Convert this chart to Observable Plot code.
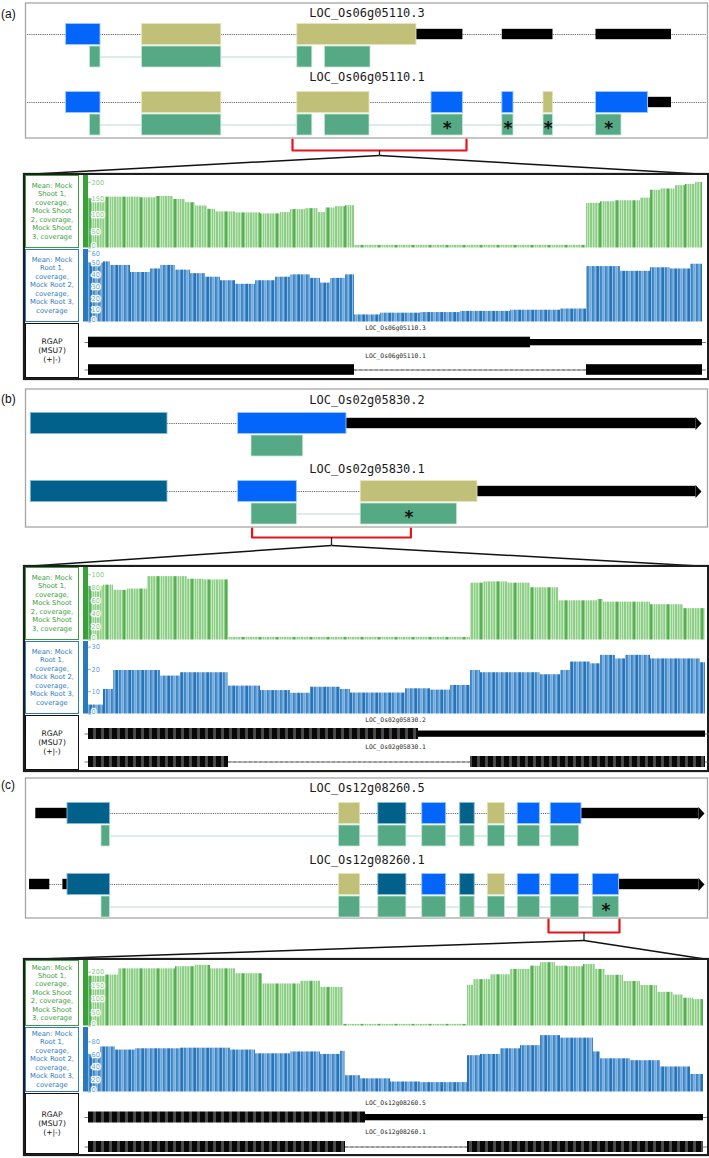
<!DOCTYPE html>
<html><head><meta charset="utf-8">
<script src="https://cdn.jsdelivr.net/npm/d3@7"></script>
<script src="https://cdn.jsdelivr.net/npm/@observablehq/plot@0.6"></script>
<style>
body{margin:0;background:#fff;}
#fig{position:relative;width:709px;height:1158px;overflow:hidden;font-family:"DejaVu Sans",sans-serif;}
.plbl{position:absolute;left:1px;font-family:"Liberation Sans",Arial,sans-serif;font-size:12px;color:#111;line-height:14px;}
.cbox{position:absolute;border:2px solid #1d1d1d;box-sizing:border-box;background:#fff;box-shadow:0 0 1px #555;}
.lbox{position:absolute;box-sizing:border-box;display:flex;align-items:center;justify-content:center;text-align:center;font-family:"DejaVu Sans",sans-serif;font-size:6.8px;line-height:8.4px;background:#fff;white-space:nowrap;}
svg{overflow:visible}
</style></head><body><div id="fig"></div>
<script>
// ---------------- DATA ----------------
// text
const shootLines = ["Mean: Mock","Shoot 1,","coverage,","Mock Shoot","2, coverage,","Mock Shoot","3, coverage"];
const rootLines = ["Mean: Mock","Root 1,","coverage,","Mock Root 2,","coverage,","Mock Root 3,","coverage"];
const rgapLines = ["RGAP","(MSU7)","(+|-)"];

// Panel (a) gene models  [transcript, start, end, kind]
const aNames = ["LOC_Os06g05110.3","LOC_Os06g05110.1"];
const aExons = [[0,65.6,100,"cds"],[0,141.6,220.8,"alt"],[0,296.8,416,"alt"],[0,416,462.4,"utr"],[0,501.8,552.5,"utr"],[0,595.5,671,"utr"],
  [1,65.6,100,"cds"],[1,141.6,220.8,"alt"],[1,296.8,369,"alt"],[1,431,462.4,"cds"],[1,501.8,513,"cds"],[1,543,552.5,"alt"],[1,595.5,647.5,"cds"],[1,647.5,671,"utr"]];
const aIntrons = [[0,27,706],[1,27,706]];
const aOrfs = [[0,89.6,100,0],[0,141.6,220.8,0],[0,296.8,311.8,0],[0,324.4,370,0],
  [1,89.6,100,0],[1,141.6,220.8,0],[1,296.8,311.8,0],[1,324.4,369,0],[1,431,462.4,1],[1,501.8,513,1],[1,543,552.5,1],[1,595.5,621,1]];
const aOrfLinks = [[0,100,141.6],[0,220.8,296.8],[1,100,141.6],[1,220.8,296.8],[1,369,431],[1,462.4,501.8],[1,513,543],[1,552.5,595.5]];
const aZoom = [292,466];
// Panel (a) coverage runs [start, end, mean coverage]
const aShoot = [[88,103,150],[103,140,155],[140,155,153],[155,173,157],[173,185,148],[185,195,138],[195,207,128],[207,215,118],[215,235,110],[235,260,107],[260,280,104],[280,290,108],[290,305,117],[305,318,120],[318,325,108],[325,335,122],[335,345,126],[345,354,129],[354,586,8],[586,600,136],[600,615,141],[615,640,144],[640,650,152],[650,660,176],[660,675,180],[675,685,190],[685,695,194],[695,702,200]];
const aRoot = [[88,103,50],[103,110,51],[110,130,48],[130,150,42],[150,160,45],[160,175,48],[175,190,44],[190,205,41],[205,220,38],[220,235,35],[235,255,32],[255,275,35],[275,290,38],[290,310,40],[310,320,37],[320,330,33],[330,345,37],[345,354,40],[354,380,6],[380,420,7.5],[420,460,8],[460,510,9],[510,560,10],[560,586,11],[586,620,47],[620,650,43],[650,670,46],[670,690,45],[690,702,49]];
const aShootTicks = [0,50,100,150,200];
const aRootTicks = [0,10,20,30,40,50,60];
const aRgap = [[0,88,530,"cds"],[0,530,702,"utr"],[1,88,354,"cds"],[1,354,586,"gap"],[1,586,702,"cds"]];

// Panel (b)
const bNames = ["LOC_Os02g05830.2","LOC_Os02g05830.1"];
const bExons = [[0,30.3,167,"teal"],[0,237.6,346,"cds"],[0,346,701,"arrow"],
  [1,30.3,167,"teal"],[1,237.6,296.4,"cds"],[1,360.2,477,"alt"],[1,477,701,"arrow"]];
const bIntrons = [[0,167,237.6],[1,167,237.6],[1,296.4,360.2]];
const bOrfs = [[0,251,302.7,0],[1,251,296.4,0],[1,360.2,456.6,1]];
const bOrfLinks = [[1,296.4,360.2]];
const bZoom = [251.6,410.4];
const bShoot = [[88,103,82],[103,113,84],[113,127,76],[127,147,78],[147,187,97],[187,203,93],[203,228,92],[228,470,4],[470,483,87],[483,507,89],[507,530,87],[530,558,80],[558,597,60],[597,603,62],[603,650,58],[650,683,54],[683,705,48]];
const bRoot = [[88,103,4],[103,113,11],[113,160,19.5],[160,180,17],[180,228,18.5],[228,260,12.5],[260,290,10.5],[290,310,9.3],[310,340,12],[340,350,11],[350,405,9.4],[405,430,11.3],[430,450,10.7],[450,470,12.8],[470,480,19.5],[480,540,18.5],[540,560,17.6],[560,570,19.5],[570,590,23.3],[590,600,22.5],[600,615,26.3],[615,625,24.7],[625,650,26.3],[650,700,24.7],[700,705,23]];
const bShootTicks = [0,20,40,60,80,100];
const bRootTicks = [0,10,20,30];
const bRgap = [[0,88,418,"striped"],[0,418,705,"utr"],[1,88,228,"striped"],[1,228,470,"gap"],[1,470,705,"striped"]];

// Panel (c)
const cNames = ["LOC_Os12g08260.5","LOC_Os12g08260.1"];
const cExons = [[0,35.3,67,"utr"],[0,67,109.5,"teal"],[0,338.5,359.7,"alt"],[0,377.8,405.9,"teal"],[0,421.7,445.7,"cds"],[0,459.7,474.2,"teal"],[0,487.3,504.5,"alt"],[0,517.2,539.4,"cds"],[0,550.2,581,"cds"],[0,581,704,"arrow"],
  [1,29,49.3,"utr"],[1,62.4,67,"utr"],[1,67,109.5,"teal"],[1,338.5,359.7,"alt"],[1,377.8,405.9,"teal"],[1,421.7,445.7,"cds"],[1,459.7,474.2,"teal"],[1,487.3,504.5,"alt"],[1,517.2,539.4,"cds"],[1,550.2,578.7,"cds"],[1,592.3,618.6,"cds"],[1,618.6,704,"arrow"]];
const cIntrons = [[0,109.5,581],[1,49.3,62.4],[1,109.5,618.6]];
const cOrfs = [[0,101,109.5,0],[0,338.5,359.7,0],[0,377.8,405.9,0],[0,421.7,445.7,0],[0,459.7,474.2,0],[0,487.3,504.5,0],[0,517.2,539.4,0],[0,550.2,578.7,0],
  [1,101,109.5,0],[1,338.5,359.7,0],[1,377.8,405.9,0],[1,421.7,445.7,0],[1,459.7,474.2,0],[1,487.3,504.5,0],[1,517.2,539.4,0],[1,550.2,578.7,0],[1,592.3,618.6,1]];
const cOrfLinks = [[0,109.5,550.2],[1,109.5,592.3]];
const cZoom = [548,619];
const cShoot = [[88,105,185],[105,118,189],[118,175,212],[175,195,220],[195,210,225],[210,235,212],[235,262,194],[262,300,156],[300,320,166],[320,343,143],[343,467,6],[467,473,151],[473,490,172],[490,510,190],[510,530,210],[530,540,222],[540,555,235],[555,567,222],[567,583,220],[583,595,228],[595,605,210],[605,623,188],[623,640,165],[640,657,150],[657,673,125],[673,683,115],[683,693,103],[693,703,98]];
const cRoot = [[88,100,60],[100,115,72],[115,135,67],[135,180,69],[180,230,70],[230,255,67],[255,290,61],[290,320,64],[320,340,60],[340,345,65],[345,360,26],[360,390,21],[390,420,16],[420,467,15],[467,480,58],[480,500,60],[500,520,69],[520,540,74],[540,560,90],[560,593,86],[593,600,64],[600,630,53],[630,660,50],[660,690,40],[690,703,28]];
const cShootTicks = [0,50,100,150,200];
const cRootTicks = [0,20,40,60,80];
const cRgap = [[0,88,365,"striped"],[0,365,703,"utr"],[1,88,345,"striped"],[1,345,467,"gap"],[1,467,703,"striped"]];

// ---------------- LAYOUT & STYLE ----------------
const layout = {
  a: {letter:"(a)", letterTop:7, top:3, bottom:138, rows:[34,102], titles:[13,77], brBottom:150, tickBottom:155,
      cov:{top:173, bottom:380, green:[175,248], blue:[249,322], rgap:[323,378], ymax:[221,61.5], rg:{labels:[4.5,32], rows:[19,46.5]}}},
  b: {letter:"(b)", letterTop:392, top:389, bottom:527, rows:[423,491], titles:[400,469], brBottom:537, tickBottom:545,
      cov:{top:565, bottom:772, green:[567,640], blue:[641,714], rgap:[715,770], ymax:[111,32.5], rg:{labels:[4.5,31.5], rows:[18.5,46.5]}}},
  c: {letter:"(c)", letterTop:778, top:778, bottom:918, rows:[813,884], titles:[788,860], brBottom:932, tickBottom:940,
      cov:{top:958, bottom:1156, green:[960,1026], blue:[1027,1092], rgap:[1093,1154], ymax:[243,103], rg:{labels:[9,38], rows:[24,53.5]}}}
};
const kindFill = {cds:"#0465fb", alt:"#c1c078", teal:"#02618b"};
const kindStroke = {cds:"#9cc8ff", alt:"#e6e5bd", teal:"#85b9d2"};
const GREEN = "#3d9e3d", BLUE = "#2f7cc0";

const fig = document.getElementById("fig");
function place(el, left, top){ el.style.position="absolute"; el.style.left=left+"px"; el.style.top=top+"px"; fig.appendChild(el); return el; }

// patterns for bar textures
const defs = d3.select("body").insert("svg", ":first-child").attr("width",0).attr("height",0).style("position","absolute").append("defs");
function stripes(id, period, parts){
  const p = defs.append("pattern").attr("id", id).attr("patternUnits","userSpaceOnUse").attr("width", period).attr("height", 10);
  parts.forEach(([x,w,c]) => p.append("rect").attr("x",x).attr("y",0).attr("width",w).attr("height",10).attr("fill",c));
}
stripes("gpat", 17, [[0,17,"#8dcf86"],[2.2,0.6,"#eef8ec"],[4.6,0.6,"#eef8ec"],[7,0.6,"#eef8ec"],[9.4,1.3,"#3c9d3b"],[12,0.6,"#eef8ec"],[14.4,0.6,"#eef8ec"],[16.4,0.6,"#eef8ec"]]);
stripes("bpat", 13, [[0,13,"#3b84c6"],[1.8,2,"#84b5e2"],[4.2,0.5,"#eaf2fb"],[6.6,1.6,"#69a4d9"],[8.6,0.5,"#eaf2fb"],[10.2,1.4,"#1f6db4"],[12.3,0.5,"#eaf2fb"]]);
stripes("rpat", 8, [[0,8,"#4a4a4a"],[0,5,"#080808"]]);

function genePlot(L, names, exons, introns, orfs, links, zoom){
  const top = L.top - 2, h = L.cov.top - top + 3;
  const c = d => L.rows[d[0]];
  const bars = exons.filter(d => d[3] === "utr" || d[3] === "arrow");
  const tips = exons.filter(d => d[3] === "arrow").flatMap((d, i) => [
    {x: d[2] - 6, y: c(d) - 6.5, k: i}, {x: d[2], y: c(d), k: i}, {x: d[2] - 6, y: c(d) + 6.5, k: i}]);
  const mid = (zoom[0] + zoom[1]) / 2;
  const bTop = L.bottom + 1;
  const bigMarks = Object.keys(kindFill).map(k => Plot.rect(exons.filter(d => d[3] === k), {
    x1: d => d[1], x2: d => d[2], y1: d => c(d) - 10.5, y2: d => c(d) + 10.5, fill: kindFill[k], stroke: kindStroke[k], strokeWidth: 0.9}));
  const svg = Plot.plot({
    width: 709, height: h, margin: 0,
    x: {domain: [0, 709], range: [0, 709], axis: null},
    y: {domain: [top, top + h], range: [0, h], axis: null},
    style: {overflow: "visible", background: "none"},
    marks: [
      Plot.rect([L], {x1: 25.5, x2: 707.5, y1: d => d.top, y2: d => d.bottom, fill: "white", stroke: "#a6a6a6", strokeWidth: 1.3}),
      Plot.text(names, {x: 366.5, y: (d, i) => L.titles[i], text: d => d, fontFamily: "DejaVu Sans Mono", fontSize: 12, fill: "#1a1a1a"}),
      Plot.ruleY(introns, {y: c, x1: d => d[1], x2: d => d[2], stroke: "#6b6b6b", strokeWidth: 1.2, strokeDasharray: "1.2,1"}),
      Plot.ruleY(links, {y: d => c(d) + 22.5, x1: d => d[1], x2: d => d[2], stroke: "#cfe7df", strokeWidth: 1.5}),
      Plot.rect(bars, {x1: d => d[1], x2: d => d[3] === "arrow" ? d[2] - 5.5 : d[2], y1: d => c(d) - 5.2, y2: d => c(d) + 5.2, fill: "#000"}),
      Plot.line(tips, {x: "x", y: "y", z: "k", fill: "#000", stroke: "none"}),
      ...bigMarks,
      Plot.rect(orfs, {x1: d => d[1], x2: d => d[2], y1: d => c(d) + 12, y2: d => c(d) + 33, fill: "#56a985", stroke: "#c3e5d5", strokeWidth: 0.8}),
      Plot.text(orfs.filter(d => d[3]), {x: d => (d[1] + d[2]) / 2, y: d => c(d) + 22.5, text: () => "*", fontSize: 17, fontWeight: "bold", fontFamily: "DejaVu Sans", fill: "#111", dy: 4}),
      Plot.line([[zoom[0], bTop], [zoom[0], L.brBottom], [zoom[1], L.brBottom], [zoom[1], bTop]], {x: d => d[0], y: d => d[1], stroke: "#e5141b", strokeWidth: 2.2}),
      Plot.ruleX([mid], {x: d => d, y1: L.brBottom, y2: L.tickBottom, stroke: "#222", strokeWidth: 1.3}),
      Plot.link([24, 707.5], {x1: mid, y1: L.tickBottom, x2: d => d, y2: L.cov.top + 1, stroke: "#111", strokeWidth: 1.5})
    ]
  });
  place(svg, 0, top);
}

function covTrack(range, runs, ticks, ymax, pat, dark, tickColor){
  const h = range[1] - range[0];
  const tmax = d3.max(ticks);
  const txt = (data, dy) => Plot.text(data, {x: 91, y: d => d, text: d => String(d), dy, textAnchor: "start", fill: tickColor, stroke: "white", strokeWidth: 2.6, fontSize: 6.6, fontFamily: "DejaVu Sans"});
  const svg = Plot.plot({
    width: 627, height: h, margin: 0,
    x: {domain: [80, 707], range: [0, 627], axis: null},
    y: {domain: [0, ymax], range: [h - 0.5, 0], axis: null},
    style: {overflow: "visible", background: "none"},
    marks: [
      Plot.rect(runs, {x1: d => d[0], x2: d => d[1], y1: 0, y2: d => d[2], fill: `url(#${pat})`}),
      Plot.rect([ymax], {x1: 83, x2: 88, y1: 0, y2: d => d, fill: dark}),
      Plot.ruleY(ticks, {y: d => d, x1: 88, x2: 91, stroke: tickColor, strokeWidth: 0.8}),
      txt(ticks.filter(t => t === 0), -2.5),
      txt(ticks.filter(t => t > 0 && (ymax - t) / ymax > 0.05), 0),
      txt(ticks.filter(t => t > 0 && (ymax - t) / ymax <= 0.05), 3)
    ]
  });
  place(svg, 80, range[0]);
}

function rgapTrack(range, names, segs, rg){
  const h = range[1] - range[0];
  const rowY = d => rg.rows[d[0]];
  const ext = [0, 1].map(r => { const s = segs.filter(d => d[0] === r); return [r, d3.min(s, d => d[1]), d3.max(s, d => d[2])]; });
  const solid = segs.filter(d => d[3] === "cds"), thin = segs.filter(d => d[3] === "utr"),
        striped = segs.filter(d => d[3] === "striped"), gaps = segs.filter(d => d[3] === "gap");
  const svg = Plot.plot({
    width: 627, height: h, margin: 0,
    x: {domain: [80, 707], range: [0, 627], axis: null},
    y: {domain: [0, h], range: [0, h], axis: null},
    style: {overflow: "visible", background: "none"},
    marks: [
      Plot.ruleY(ext, {y: rowY, x1: d => d[1] - 3.5, x2: d => d[2] + 4, stroke: "#555", strokeWidth: 0.8}),
      Plot.ruleY(gaps, {y: rowY, x1: d => d[1], x2: d => d[2], stroke: "#777", strokeWidth: 1, strokeDasharray: "3,2.2"}),
      Plot.rect(solid, {x1: d => d[1], x2: d => d[2], y1: d => rowY(d) - 5.3, y2: d => rowY(d) + 5.3, fill: "#000"}),
      Plot.rect(striped, {x1: d => d[1], x2: d => d[2], y1: d => rowY(d) - 5.5, y2: d => rowY(d) + 5.5, fill: "url(#rpat)"}),
      Plot.rect(thin, {x1: d => d[1], x2: d => d[2], y1: d => rowY(d) - 3, y2: d => rowY(d) + 3.3, fill: "#000"}),
      Plot.text(names, {x: 395, y: (d, i) => rg.labels[i], text: d => d, fontFamily: "DejaVu Sans Mono", fontSize: 6.3, fill: "#222"})
    ]
  });
  place(svg, 80, range[0]);
}

function labelBox(range, lines, color, border, fs){
  const d = document.createElement("div");
  d.className = "lbox";
  d.style.width = "54px"; d.style.height = (range[1] - range[0]) + "px";
  d.style.border = border; d.style.color = color;
  if (fs) { d.style.fontSize = fs + "px"; d.style.lineHeight = "9px"; }
  d.innerHTML = lines.join("<br>");
  place(d, 25, range[0]);
}

function panel(L, names, exons, introns, orfs, links, zoom, shoot, root, sT, rT, rgap){
  const lt = document.createElement("div"); lt.className = "plbl"; lt.textContent = L.letter; place(lt, 1, L.letterTop);
  genePlot(L, names, exons, introns, orfs, links, zoom);
  const C = L.cov;
  const box = document.createElement("div"); box.className = "cbox";
  box.style.width = "686px"; box.style.height = (C.bottom - C.top) + "px";
  place(box, 23, C.top);
  labelBox(C.green, shootLines, GREEN, "1px solid " + GREEN);
  labelBox(C.blue, rootLines, BLUE, "1px solid " + BLUE);
  labelBox(C.rgap, rgapLines, "#111", "1.5px solid #111", 7.6);
  covTrack(C.green, shoot, sT, C.ymax[0], "gpat", "#3aa03a", "#86cc80");
  covTrack(C.blue, root, rT, C.ymax[1], "bpat", "#2a78be", "#5d9fd9");
  rgapTrack(C.rgap, names, rgap, C.rg);
}

panel(layout.a, aNames, aExons, aIntrons, aOrfs, aOrfLinks, aZoom, aShoot, aRoot, aShootTicks, aRootTicks, aRgap);
panel(layout.b, bNames, bExons, bIntrons, bOrfs, bOrfLinks, bZoom, bShoot, bRoot, bShootTicks, bRootTicks, bRgap);
panel(layout.c, cNames, cExons, cIntrons, cOrfs, cOrfLinks, cZoom, cShoot, cRoot, cShootTicks, cRootTicks, cRgap);
</script></body></html>
